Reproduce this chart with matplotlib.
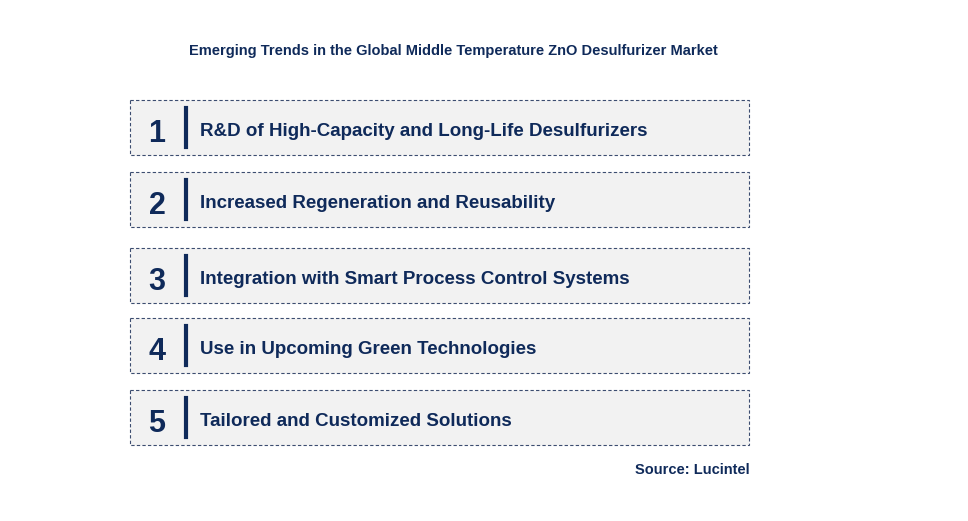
import matplotlib
matplotlib.use("Agg")
import matplotlib.pyplot as plt
from matplotlib.patches import Rectangle

title = "Emerging Trends in the Global Middle Temperature ZnO Desulfurizer Market"
numbers = ["1", "2", "3", "4", "5"]
trends = [
    "R&D of High-Capacity and Long-Life Desulfurizers",
    "Increased Regeneration and Reusability",
    "Integration with Smart Process Control Systems",
    "Use in Upcoming Green Technologies",
    "Tailored and Customized Solutions",
]
source = "Source: Lucintel"

box_tops = [100, 172, 248, 318, 390]
navy = "#0f2a5a"

fig = plt.figure(figsize=(9.68, 5.21), dpi=100)
ax = fig.add_axes([0, 0, 1, 1])
ax.set_xlim(0, 968)
ax.set_ylim(521, 0)
ax.axis("off")

ax.text(453, 49, title, ha="center", va="center_baseline", fontsize=10.5,
        fontweight="bold", color=navy, family="Liberation Sans")
for top, n, t in zip(box_tops, numbers, trends):
    ax.add_patch(Rectangle((130, top), 619, 55, facecolor="#f2f2f2",
                           edgecolor="#3c4d70", linestyle=(0, (3, 2)), linewidth=0.8))
    cy = top + 30
    ax.text(157, cy + 1, n, ha="center", va="center_baseline", fontsize=22,
            fontweight="bold", color=navy, family="Liberation Sans")
    ax.plot([186, 186], [top + 8, top + 47], color=navy, linewidth=3)
    ax.text(200, cy, t, ha="left", va="center_baseline", fontsize=13.5,
            fontweight="bold", color=navy, family="Liberation Sans")
ax.text(750, 468, source, ha="right", va="center_baseline", fontsize=10.5,
        fontweight="bold", color=navy, family="Liberation Sans")

fig.savefig("out.png", dpi=100)
